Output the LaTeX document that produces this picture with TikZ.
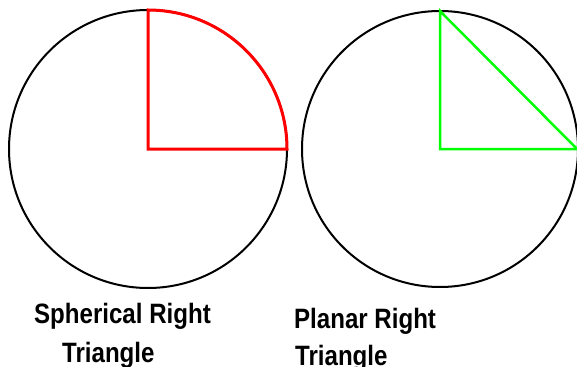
\documentclass[tikz,border=0pt]{standalone}
\usepackage{fontspec}
\setmainfont{Liberation Sans}
\tikzset{
  etich/.style={anchor=base west, inner sep=0pt, xscale=0.86,
    font=\bfseries\fontsize{28}{28}\selectfont}
}
\begin{document}
\begin{tikzpicture}[x=1pt,y=-1pt]
        \useasboundingbox (0,0) rectangle (577,366);

        %sfera a sinistra
        \draw[line width=2pt] (148,149) circle [radius=139];
        \coordinate (S0) at (148,149);
        \coordinate (SA) at (148,10);
        \coordinate (SB) at (287,149);
        \draw[red,line width=3pt,line join=miter] (SA)--(S0)--(SB)
          arc [start angle=0, end angle=-90, radius=139] -- cycle;

        %piano a destra
        \draw[line width=2pt] (440,149) circle [radius=138];
        \coordinate (P0) at (440,149);
        \coordinate (PA) at (440,11);
        \coordinate (PB) at (577,149);
        \draw[green,line width=2.5pt,line join=miter] (PA)--(P0)--(PB)--cycle;

        %label
        \node[etich] (sfera1) at (34,323) {Spherical Right};
        \node[etich] (sfera2) at (62,362) {Triangle};
        \node[etich] (piano1) at (294,328) {Planar Right};
        \node[etich] (piano2) at (295,365) {Triangle};

    \end{tikzpicture}
\end{document}
